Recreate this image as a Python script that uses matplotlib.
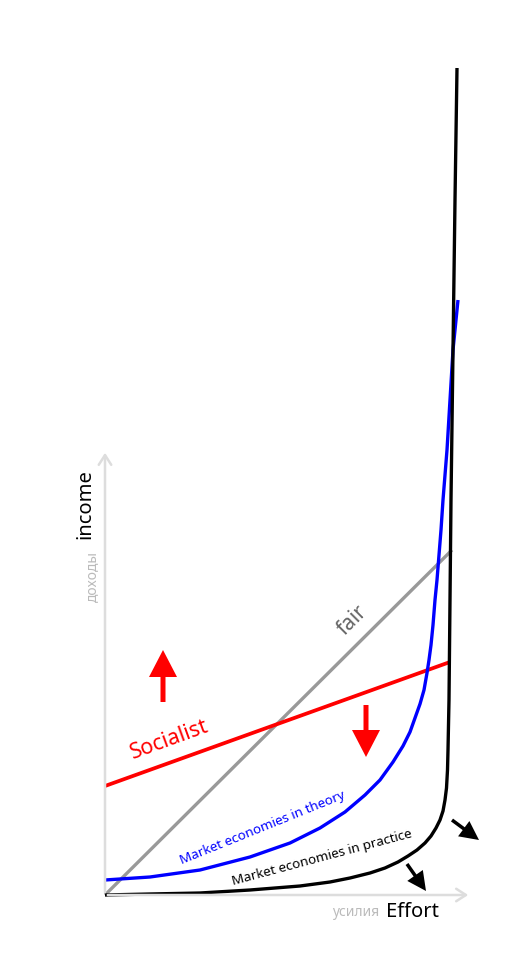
import matplotlib.pyplot as plt
import numpy as np

plt.rcParams["font.family"] = ["Noto Sans", "DejaVu Sans"]

# coordinates: effort to the right, income upward, origin at the axes corner
practice_effort = [0, 45, 95, 145, 195, 225, 245, 265, 280, 293, 303, 312, 320, 326, 331, 335,
                   338, 340, 341.5, 342.5, 343, 344, 345, 346, 348, 350, 352]
practice_income = [0, 1, 2, 5, 9, 13, 17, 22, 27, 33, 39, 45, 52, 59, 67, 75,
                   84, 95, 107, 125, 145, 195, 295, 395, 545, 695, 827]

theory_effort = [0, 45, 95, 145, 185, 215, 240, 260, 275, 288, 298, 305, 310, 315, 319, 322,
                 324, 326, 328, 330, 332, 334, 336, 338, 340, 342, 345, 348, 351, 353]
theory_income = [15, 18, 25, 38, 52, 67, 83, 100, 115, 133, 149, 163, 177, 191, 205, 222,
                 235, 250, 270, 295, 315, 340, 365, 395, 420, 445, 495, 545, 575, 595]

socialist_effort = [0, 345]
socialist_income = [109, 233]

fair_effort = [0, 347]
fair_income = [0, 345]

# thick arrows: start x, start y, dx, dy
red_arrows = [(58, 193, 0, 52), (261, 190, 0, -52)]
black_arrows = [(347, 75, 27, -20), (302, 31, 19, -27)]

fig = plt.figure(figsize=(5.31, 9.76), dpi=100)
ax = fig.add_axes([0, 0, 1, 1])
ax.set_xlim(-105, 426)
ax.set_ylim(-81, 895)
ax.axis("off")

# axes
ax.annotate("", xy=(0, 445), xytext=(0, 0),
            arrowprops=dict(arrowstyle="->,head_length=0.7,head_width=0.45", color="#dddddd", lw=1.8))
ax.annotate("", xy=(366, 0), xytext=(0, 0),
            arrowprops=dict(arrowstyle="->,head_length=0.7,head_width=0.45", color="#dddddd", lw=1.8))

ax.plot(fair_effort, fair_income, color="#999999", lw=2.4, solid_capstyle="butt")
ax.plot(socialist_effort, socialist_income, color="#ff0000", lw=2.7, solid_capstyle="butt")
ax.plot(theory_effort, theory_income, color="#0000ff", lw=2.4, solid_capstyle="butt", solid_joinstyle="round")
ax.plot(practice_effort, practice_income, color="black", lw=2.4, solid_capstyle="butt", solid_joinstyle="round")

for x, y, dx, dy in red_arrows:
    ax.arrow(x, y, dx, dy, width=5, head_width=28, head_length=27,
             length_includes_head=True, color="#ff0000", lw=0)
for x, y, dx, dy in black_arrows:
    ax.arrow(x, y, dx, dy, width=3.5, head_width=19, head_length=19,
             length_includes_head=True, color="black", lw=0)

ax.text(65, 155, "Socialist", color="#ff0000", fontsize=15.5, rotation=20,
        ha="center", va="center")
ax.text(248, 275, "fair", color="#666666", fontsize=15, rotation=45,
        ha="center", va="center")
ax.text(158, 67, "Market economies in theory", color="#0000ff", fontsize=9.7,
        rotation=22, ha="center", va="center")
ax.text(217, 37, "Market economies in practice", color="black", fontsize=9.7,
        rotation=15, ha="center", va="center")

ax.text(-20, 391, "income", color="black", fontsize=14.5, rotation=90,
        ha="center", va="center")
ax.text(-13, 318, "доходы", color="#bbbbbb", fontsize=10, rotation=90,
        ha="center", va="center")
ax.text(307, -17, "Effort", color="black", fontsize=14.5, ha="center", va="center")
ax.text(251, -18, "усилия", color="#bbbbbb", fontsize=10, ha="center", va="center")

fig.savefig("out.png", dpi=100)
